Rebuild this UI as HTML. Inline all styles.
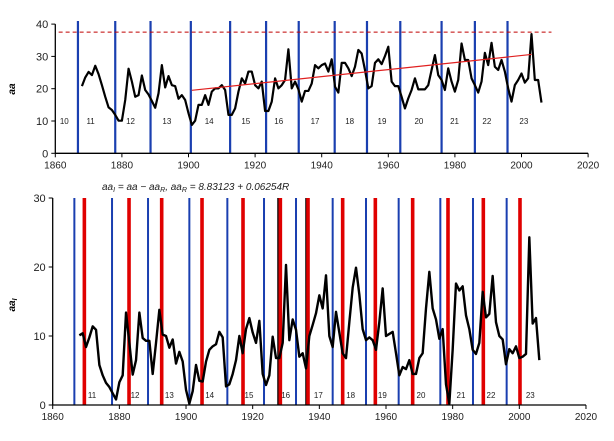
<!DOCTYPE html>
<html><head><meta charset="utf-8"><style>
body{margin:0;background:#fff;}
svg{display:block;font-family:"Liberation Sans",Arial,sans-serif;}
</style></head><body>
<svg id="chart" width="614" height="441" viewBox="0 0 614 441" xmlns="http://www.w3.org/2000/svg">
<g id="topPanel"></g>
<g id="botPanel"></g>
<text x="15" y="89" font-size="10" font-weight="bold" font-style="italic" text-anchor="middle" transform="rotate(-90 15 89)">aa</text>
<text x="15" y="305" font-size="10" font-weight="bold" font-style="italic" text-anchor="middle" transform="rotate(-90 15 305)">aa<tspan font-size="7" dy="2">I</tspan></text>
<text x="102" y="190" font-size="10" font-style="italic" fill="#222">aa<tspan font-size="7" dy="2">I</tspan><tspan dy="-2"> = aa − aa</tspan><tspan font-size="7" dy="2">R</tspan><tspan dy="-2">, aa</tspan><tspan font-size="7" dy="2">R</tspan><tspan dy="-2"> = 8.83123 + 0.06254R</tspan></text>
</svg>
<script>
const topYears=[1868,1869,1870,1871,1872,1873,1874,1875,1876,1877,1878,1879,1880,1881,1882,1883,1884,1885,1886,1887,1888,1889,1890,1891,1892,1893,1894,1895,1896,1897,1898,1899,1900,1901,1902,1903,1904,1905,1906,1907,1908,1909,1910,1911,1912,1913,1914,1915,1916,1917,1918,1919,1920,1921,1922,1923,1924,1925,1926,1927,1928,1929,1930,1931,1932,1933,1934,1935,1936,1937,1938,1939,1940,1941,1942,1943,1944,1945,1946,1947,1948,1949,1950,1951,1952,1953,1954,1955,1956,1957,1958,1959,1960,1961,1962,1963,1964,1965,1966,1967,1968,1969,1970,1971,1972,1973,1974,1975,1976,1977,1978,1979,1980,1981,1982,1983,1984,1985,1986,1987,1988,1989,1990,1991,1992,1993,1994,1995,1996,1997,1998,1999,2000,2001,2002,2003,2004,2005,2006];
const aaValues=[20.8,23.5,25.2,24.2,27.1,24.5,21.1,17.5,14.2,13.4,11.9,10.1,10.1,16.5,26.2,22.2,17.5,18,24.1,19.6,18.2,16.2,14.1,18.6,27.3,20.4,23.9,21.1,20.8,16.9,18,16.5,12.4,8.8,10.1,15,15,18,15,19.1,20.1,20.1,21.1,19.6,11.9,11.9,13.9,19.1,23.2,21.6,25.3,25.3,21.1,20.1,22.2,13.1,13.1,16,23.2,20.1,21.1,22.7,32.2,20.1,22.2,19.8,16,19.3,19.3,21.6,27.3,26.3,27.3,27.8,25.3,29.1,20.6,18.8,28,28,26.3,23.9,26.8,32,30.9,25.8,20.1,20.8,28,29.1,27.6,30.1,33,22.2,20.8,20.8,17.5,13.9,17,19.6,23.2,19.8,19.8,19.8,21.1,25.8,30.4,24.2,22.7,19.6,26.3,22.2,19.1,22.7,34,28.9,28.9,23.2,21.1,18.8,22.2,31.1,27.3,34.2,26.8,25.8,28.9,25.3,20.1,16,21.1,22.7,24.7,21.9,23.2,36.9,22.7,22.7,15.7];
const aaIValues=[10.1,10.4,8.4,9.8,11.4,10.9,5.8,4.3,3.2,2.6,1.7,0.8,3.3,4.3,13.4,9,4.4,6.5,13.4,9.7,9.3,9.3,4.5,9,13.8,10.2,10,8.3,9.5,6,7.7,6.3,2.2,0.2,2,5.8,3.5,3.4,6.3,8,8.5,8.8,10.6,9.8,2.7,3,4.5,6.5,10,7.5,11,12.6,10.5,9,12.2,4.5,2.9,4.3,9.9,6.8,6.8,9,20.3,9.4,12.4,10.9,7,7.5,5.3,10,11.6,13.3,15.9,14,18.8,10,8.4,13.5,10.5,7.5,6.8,12,17,19.9,16,11,9.4,9.8,9.4,8,12,16.9,10,10.3,10.6,7.5,4.3,5.5,5.2,6.5,4.5,4.5,6.8,7.5,14,19.3,14,12.4,9.6,11,3,0.2,8,17.6,16.6,17.2,13,11,8,7.4,9,16.4,12.7,13.2,18.7,12,10,9.5,5.9,8.1,7.5,8.5,6.8,7,7.4,24.3,11.8,12.6,6.5];
const minYears=[1866.8,1878,1888.6,1900.7,1912.5,1923.3,1933.1,1943.9,1953.6,1963.6,1976,1986,1995.8];
const botBlueYears=[1866.5,1877.8,1888.6,1901,1912.4,1923.4,1933,1944,1954,1963.8,1976.3,1986.1,1996.2];
const botRedYears=[1869.5,1882.9,1892.7,1904.8,1917.1,1928.3,1936.6,1947,1956.8,1968,1978.6,1989.2,2000.2];
const botBlackYears=[1927.6,1936];
const topCycleLabels=["10","11","12","13","14","15","16","17","18","19","20","21","22","23"];
const topCycleYears=[1862.7,1870.6,1882.6,1893.5,1906.2,1917.2,1927.1,1938,1948.4,1958.1,1969.2,1979.9,1989.6,2000.7];
const botCycleLabels=["11","12","13","14","15","16","17","18","19","20","21","22","23"];
const botCycleYears=[1871.8,1884.7,1895,1907.1,1918.9,1929.9,1939.7,1949.4,1958.9,1970.5,1982.5,1991.5,2003.3];
const xTicks=[1860,1880,1900,1920,1940,1960,1980,2000,2020];
const topYTicks=[0,10,20,30,40];
const botYTicks=[0,10,20,30];
const trendYears=[1901,2003];
const trendValues=[19.5,30.6];
const refLevel=37.5;

{
const NS="http://www.w3.org/2000/svg";
function mk(parent,tag,attrs){const e=document.createElementNS(NS,tag);for(const k in attrs)e.setAttribute(k,attrs[k]);parent.appendChild(e);return e;}
const tX=y=>55.3+(y-1860)*3.33, tY=v=>153.3-v*3.23;
const bX=y=>52.7+(y-1860)*3.333, bY=v=>405-v*6.9;
function pts(X,Y,vals){const out=[];for(let i=0;i<topYears.length&&i<vals.length;i++){if(vals[i]!=null&&!isNaN(vals[i]))out.push(X(topYears[i]).toFixed(2)+','+Y(vals[i]).toFixed(2));}return out.join(' ');}

function axes(g,X,Y,yTicks,pfx){
  const x0=X(1860),x1=X(2020),y0=Y(0),y1=Y(yTicks[yTicks.length-1]);
  let l=mk(g,'line',{x1:x0,y1:y0,x2:x1,y2:y0,stroke:'#000','stroke-width':1.3});
  
  
  l=mk(g,'line',{x1:x0,y1:y0,x2:x0,y2:y1,stroke:'#000','stroke-width':1.3});
  
  
  xTicks.forEach(t=>{mk(g,'line',{x1:X(t),y1:y0,x2:X(t),y2:y0+4,stroke:'#000'});
    const tx=mk(g,'text',{x:X(t),y:y0+15,'font-size':10,'text-anchor':'middle',fill:'#222'});tx.textContent=t;
    
    });
  yTicks.forEach(t=>{mk(g,'line',{x1:x0-4,y1:Y(t),x2:x0,y2:Y(t),stroke:'#000'});
    const tx=mk(g,'text',{x:x0-7,y:Y(t)+4,'font-size':11,'text-anchor':'end',fill:'#222'});tx.textContent=t;
    
    });
}
const topG=document.getElementById('topPanel'), botG=document.getElementById('botPanel');
minYears.forEach(y=>{const l=mk(topG,'line',{x1:tX(y),y1:21,x2:tX(y),y2:tY(0),stroke:'#1a3fb0','stroke-width':2.2});
  
  });
let d=mk(topG,'line',{x1:tX(1861),y1:tY(refLevel),x2:tX(2009),y2:tY(refLevel),stroke:'#c00000','stroke-width':1,'stroke-dasharray':'4,3'});


topCycleLabels.forEach((c,i)=>{const t=mk(topG,'text',{x:tX(topCycleYears[i]),y:124,'font-size':8,'text-anchor':'middle',fill:'#222'});t.textContent=c;
  
  });
axes(topG,tX,tY,topYTicks,'top');
let p=mk(topG,'polyline',{points:pts(tX,tY,aaValues),fill:'none',stroke:'#000','stroke-width':2.2,'stroke-linejoin':'round'});


let tr=mk(topG,'line',{x1:tX(trendYears[0]),y1:tY(trendValues[0]),x2:tX(trendYears[1]),y2:tY(trendValues[1]),stroke:'#e02020','stroke-width':1.2});


botBlueYears.forEach(y=>{const l=mk(botG,'line',{x1:bX(y),y1:bY(30),x2:bX(y),y2:bY(0),stroke:'#1a3fb0','stroke-width':2});
  
  });
botBlackYears.forEach(y=>{const l=mk(botG,'line',{x1:bX(y),y1:bY(30),x2:bX(y),y2:bY(0),stroke:'#000','stroke-width':1.5});
  
  });
botRedYears.forEach(y=>{const l=mk(botG,'line',{x1:bX(y),y1:bY(30),x2:bX(y),y2:bY(0),stroke:'#e00000','stroke-width':3.6});
  
  });
botCycleLabels.forEach((c,i)=>{const t=mk(botG,'text',{x:bX(botCycleYears[i]),y:398,'font-size':8,'text-anchor':'middle',fill:'#222'});t.textContent=c;
  
  });
axes(botG,bX,bY,botYTicks,'bottom');
p=mk(botG,'polyline',{points:pts(bX,bY,aaIValues),fill:'none',stroke:'#000','stroke-width':2.4,'stroke-linejoin':'round'});


}
</script>
</body></html>
